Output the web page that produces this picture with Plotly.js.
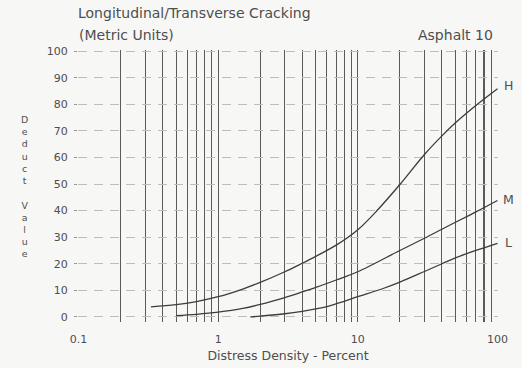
<!DOCTYPE html>
<html><head><meta charset="utf-8">
<script src="https://cdn.plot.ly/plotly-3.0.1.min.js"></script>
<style>html,body{margin:0;padding:0;background:#f7f7f6}</style>
</head><body><div id="chart" style="width:522px;height:368px"></div>
<script>
// Distress density (%) and deduct values
const xH = [0.33, 0.5, 0.7, 1, 1.5, 2, 3, 4, 5, 7, 10, 14, 20, 30, 40, 50, 70, 100];
const yH = [3.8, 4.6, 5.8, 7.6, 10.5, 13, 17, 20.2, 22.8, 27, 32.8, 40.5, 49.8, 61.1, 68.1, 73, 79.5, 85.8];
const xM = [0.5, 0.7, 1, 1.5, 2, 3, 4, 5, 7, 10, 20, 30, 40, 50, 70, 100];
const yM = [0.5, 1.0, 1.8, 3.2, 4.7, 7.3, 9.4, 11.1, 13.9, 17, 25, 29.6, 33, 35.6, 39.5, 43.8];
const xL = [1.7, 2, 3, 4, 5, 6, 8, 10, 15, 20, 30, 40, 50, 70, 100];
const yL = [0, 0.3, 1.2, 2.1, 3.0, 3.9, 5.9, 7.6, 10.6, 13.1, 17.1, 20, 22.2, 25, 27.7];
const seriesNames = ['H', 'M', 'L'];

const xTickVals = [0.1, 1, 10, 100];
const xTickText = ['0.1', '1', '10', '100'];
const gridVals = [0.2,0.3,0.4,0.5,0.6,0.7,0.8,0.9,2,3,4,5,6,7,8,9,20,30,40,50,60,70,80,90];
const yTickVals = [0,10,20,30,40,50,60,70,80,90,100];

const titleText = 'Longitudinal/Transverse Cracking';
const subTitleText = '(Metric Units)';
const sideText = 'Asphalt 10';
const xTitle = 'Distress Density - Percent';
const yTitle = 'Deduct Value';

const FONT = 'DejaVu Sans, Arial, sans-serif';
const INK = '#4e4e4e';
const GRID = '#5a5a5a';

const xs = [xH, xM, xL], ys = [yH, yM, yL];
const traces = seriesNames.map((n, i) => ({
  x: xs[i], y: ys[i], name: n, type: 'scatter', mode: 'lines',
  line: {color: '#3c3c3c', width: 1.3, shape: 'spline', smoothing: 1},
  hoverinfo: 'skip', showlegend: false
}));

const labelAnn = seriesNames.map((n, i) => ({
  x: Math.log10(xs[i][xs[i].length - 1]),
  y: ys[i][ys[i].length - 1],
  xref: 'x', yref: 'y', text: n, showarrow: false,
  xanchor: 'center', yanchor: 'middle', xshift: 11, yshift: [3, 1, 1][i],
  font: {family: FONT, size: 12.5, color: INK}
}));

const layout = {
  width: 522, height: 368,
  margin: {l: 78, r: 24, t: 50, b: 46},
  paper_bgcolor: '#f7f7f6', plot_bgcolor: '#f7f7f6',
  showlegend: false,
  xaxis: {
    type: 'log', range: [-1.0036, 2.0036],
    tickmode: 'array', tickvals: xTickVals, ticktext: xTickText,
    showgrid: true, gridcolor: GRID, gridwidth: 1.1,
    minor: {tickmode: 'array', tickvals: gridVals, showgrid: true, gridcolor: GRID, gridwidth: 1.1, ticks: ''},
    ticks: '', zeroline: false, showline: false,
    ticklabelstandoff: 9,
    tickfont: {family: FONT, size: 11, color: INK},
    title: {text: xTitle, font: {family: FONT, size: 12.5, color: INK}, standoff: 6}
  },
  yaxis: {
    range: [-1.9, 100.4],
    tickmode: 'array', tickvals: yTickVals,
    showgrid: true, gridcolor: '#bdbdbd', gridwidth: 1, griddash: '9px,7px',
    ticks: 'outside', ticklen: 3, tickcolor: '#999', tickwidth: 1,
    ticklabelstandoff: 4,
    zeroline: false, showline: false,
    tickfont: {family: FONT, size: 11, color: INK}
  },
  annotations: [
    {xref: 'paper', yref: 'paper', x: 0, y: 1, xanchor: 'left', yanchor: 'middle', xshift: -2, yshift: 37,
     text: titleText, showarrow: false, font: {family: FONT, size: 14, color: INK}},
    {xref: 'paper', yref: 'paper', x: 0, y: 1, xanchor: 'left', yanchor: 'middle', xshift: -1, yshift: 15,
     text: subTitleText, showarrow: false, font: {family: FONT, size: 14, color: INK}},
    {xref: 'paper', yref: 'paper', x: 1, y: 1, xanchor: 'right', yanchor: 'middle', xshift: -3, yshift: 15,
     text: sideText, showarrow: false, font: {family: FONT, size: 14, color: INK}},
    {xref: 'paper', yref: 'paper', x: 0, y: 0.5, xanchor: 'center', yanchor: 'middle', xshift: -54, yshift: 0,
     text: yTitle.split('').join('<br>'), showarrow: false, align: 'center',
     font: {family: FONT, size: 9.4, color: INK}}
  ].concat(labelAnn)
};

Plotly.newPlot('chart', traces, layout, {staticPlot: true, displayModeBar: false});
</script></body></html>
